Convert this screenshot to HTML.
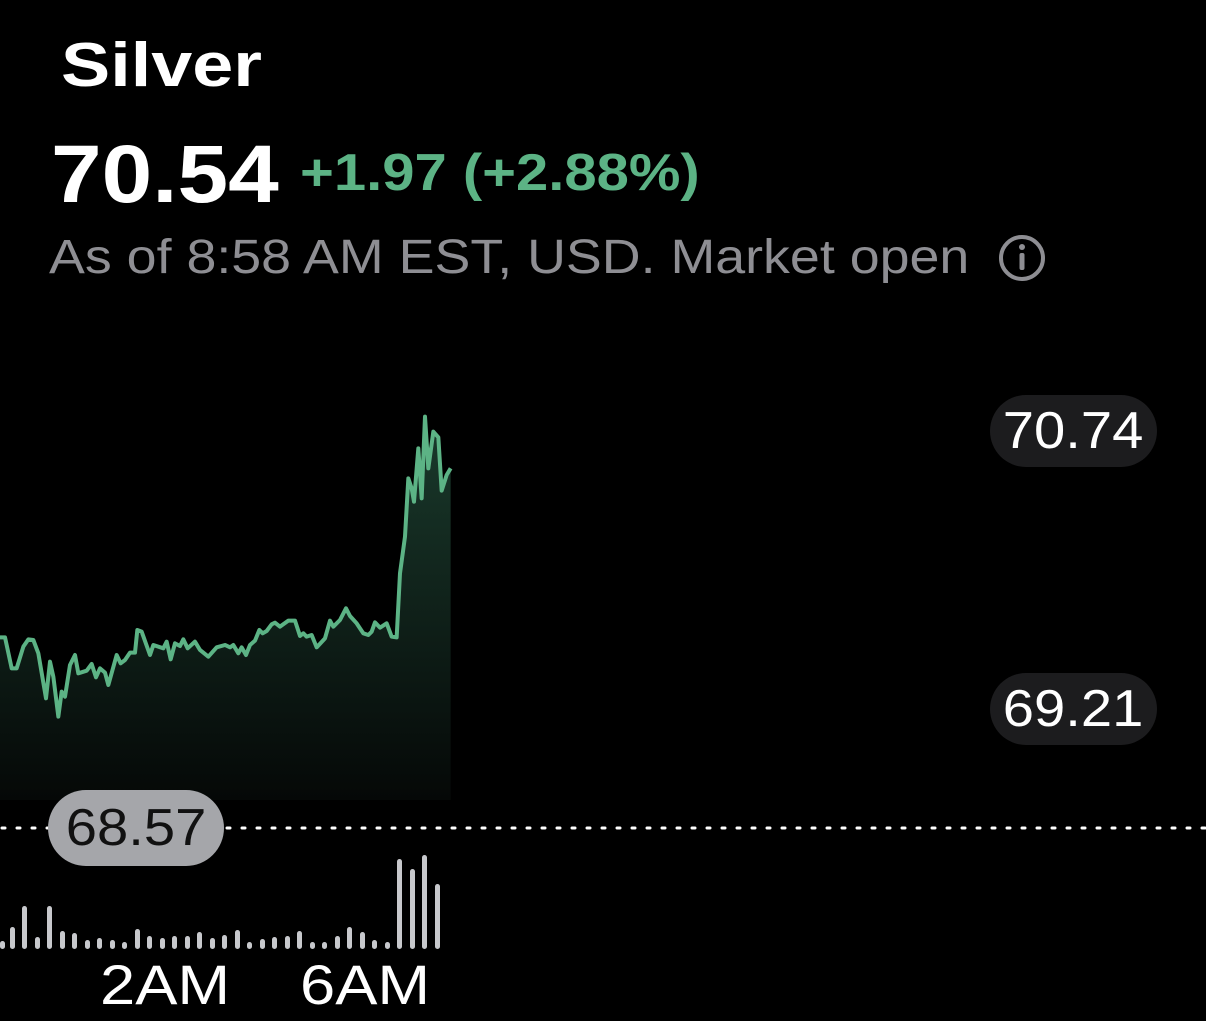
<!DOCTYPE html>
<html><head><meta charset="utf-8"><style>
html,body{margin:0;padding:0;background:#000;width:1206px;height:1021px;overflow:hidden;font-family:"Liberation Sans",Arial,sans-serif;}
.t{position:absolute;white-space:nowrap;transform-origin:0 0;}
.pill{position:absolute;border-radius:36px;background:#1c1c1e;color:#fff;font-size:52px;display:flex;align-items:center;justify-content:center;}
.pill span{display:inline-block;transform:scaleX(1.08);}
</style></head><body>
<div class="t" style="left:61px;top:30px;font-size:62px;font-weight:bold;color:#fff;transform:scaleX(1.19);">Silver</div>
<div class="t" style="left:51px;top:128px;font-size:82px;font-weight:bold;color:#fff;transform:scaleX(1.11);">70.54</div>
<div class="t" style="left:300px;top:143px;font-size:52px;font-weight:bold;color:#5cb385;transform:scaleX(1.115);">+1.97 (+2.88%)</div>
<div class="t" style="left:49px;top:230px;font-size:48px;color:#8e8e93;transform:scaleX(1.12);">As of 8:58 AM EST, USD. Market open</div>
<svg style="position:absolute;left:0;top:0" width="1206" height="1021">
<circle cx="1022" cy="258" r="21" fill="none" stroke="#8e8e93" stroke-width="4"/>
<circle cx="1022" cy="247" r="3" fill="#8e8e93"/>
<rect x="1019.5" y="253" width="5" height="17" rx="2" fill="#8e8e93"/>
<defs><linearGradient id="g" x1="0" y1="0" x2="0" y2="1"><stop offset="0" stop-color="#1a3a2c"/><stop offset="1" stop-color="#050807"/></linearGradient></defs>
<g transform="translate(0,400) scale(0.33333)">
<path fill="url(#g)" d="M0,712 L15,712 35,805 50,805 70,740 85,718 100,720 115,760 138,895 150,785 160,830 175,950 185,875 195,890 210,795 225,765 235,820 260,812 275,792 288,832 300,805 315,818 325,855 350,765 362,790 375,780 390,758 405,758 412,690 425,695 450,765 460,735 490,745 500,725 512,778 525,730 540,738 550,718 563,745 585,725 600,750 625,770 650,742 675,735 690,742 700,735 715,760 725,742 738,765 750,735 765,722 778,690 788,700 800,693 815,673 825,668 840,680 865,662 885,662 900,708 910,700 920,710 935,705 950,742 975,715 990,662 1000,680 1020,660 1038,625 1050,648 1070,670 1090,700 1105,705 1115,695 1125,667 1140,683 1160,670 1175,710 1190,712 1200,520 1215,410 1225,235 1235,265 1242,305 1255,145 1265,295 1275,50 1285,205 1300,95 1315,112 1325,272 1340,225 1352,205 L1352,1200 L0,1200 Z"/>
<polyline fill="none" stroke="#5cb385" stroke-width="12" stroke-linejoin="round" points="0,712 15,712 35,805 50,805 70,740 85,718 100,720 115,760 138,895 150,785 160,830 175,950 185,875 195,890 210,795 225,765 235,820 260,812 275,792 288,832 300,805 315,818 325,855 350,765 362,790 375,780 390,758 405,758 412,690 425,695 450,765 460,735 490,745 500,725 512,778 525,730 540,738 550,718 563,745 585,725 600,750 625,770 650,742 675,735 690,742 700,735 715,760 725,742 738,765 750,735 765,722 778,690 788,700 800,693 815,673 825,668 840,680 865,662 885,662 900,708 910,700 920,710 935,705 950,742 975,715 990,662 1000,680 1020,660 1038,625 1050,648 1070,670 1090,700 1105,705 1115,695 1125,667 1140,683 1160,670 1175,710 1190,712 1200,520 1215,410 1225,235 1235,265 1242,305 1255,145 1265,295 1275,50 1285,205 1300,95 1315,112 1325,272 1340,225 1352,205"/>
</g>
<line x1="2" y1="828" x2="1206" y2="828" stroke="#fff" stroke-width="3" stroke-dasharray="3 12" stroke-linecap="round"/>
<g fill="#c7c8cc">
<rect x="0" y="941" width="5" height="8" rx="2.5"/>
<rect x="10" y="927" width="5" height="22" rx="2.5"/>
<rect x="22" y="906" width="5" height="43" rx="2.5"/>
<rect x="35" y="937" width="5" height="12" rx="2.5"/>
<rect x="47" y="906" width="5" height="43" rx="2.5"/>
<rect x="60" y="931" width="5" height="18" rx="2.5"/>
<rect x="72" y="933" width="5" height="16" rx="2.5"/>
<rect x="85" y="940" width="5" height="9" rx="2.5"/>
<rect x="97" y="938" width="5" height="11" rx="2.5"/>
<rect x="110" y="940" width="5" height="9" rx="2.5"/>
<rect x="122" y="942" width="5" height="7" rx="2.5"/>
<rect x="135" y="929" width="5" height="20" rx="2.5"/>
<rect x="147" y="936" width="5" height="13" rx="2.5"/>
<rect x="160" y="938" width="5" height="11" rx="2.5"/>
<rect x="172" y="936" width="5" height="13" rx="2.5"/>
<rect x="185" y="936" width="5" height="13" rx="2.5"/>
<rect x="197" y="932" width="5" height="17" rx="2.5"/>
<rect x="210" y="938" width="5" height="11" rx="2.5"/>
<rect x="222" y="935" width="5" height="14" rx="2.5"/>
<rect x="235" y="930" width="5" height="19" rx="2.5"/>
<rect x="247" y="942" width="5" height="7" rx="2.5"/>
<rect x="260" y="939" width="5" height="10" rx="2.5"/>
<rect x="272" y="937" width="5" height="12" rx="2.5"/>
<rect x="285" y="936" width="5" height="13" rx="2.5"/>
<rect x="297" y="931" width="5" height="18" rx="2.5"/>
<rect x="310" y="942" width="5" height="7" rx="2.5"/>
<rect x="322" y="942" width="5" height="7" rx="2.5"/>
<rect x="335" y="936" width="5" height="13" rx="2.5"/>
<rect x="347" y="927" width="5" height="22" rx="2.5"/>
<rect x="360" y="932" width="5" height="17" rx="2.5"/>
<rect x="372" y="940" width="5" height="9" rx="2.5"/>
<rect x="385" y="942" width="5" height="7" rx="2.5"/>
<rect x="397" y="859" width="5" height="90" rx="2.5"/>
<rect x="410" y="869" width="5" height="80" rx="2.5"/>
<rect x="422" y="855" width="5" height="94" rx="2.5"/>
<rect x="435" y="884" width="5" height="65" rx="2.5"/>
</g>
</svg>
<div class="pill" style="left:990px;top:395px;width:167px;height:72px;"><span>70.74</span></div>
<div class="pill" style="left:990px;top:673px;width:167px;height:72px;"><span>69.21</span></div>
<div class="pill" style="left:48px;top:790px;width:176px;height:76px;background:#a5a6aa;color:#111;border-radius:38px;"><span>68.57</span></div>
<div class="t" style="left:100px;top:952px;font-size:56px;color:#fff;transform:scaleX(1.13);">2AM</div>
<div class="t" style="left:300px;top:952px;font-size:56px;color:#fff;transform:scaleX(1.13);">6AM</div>
</body></html>
